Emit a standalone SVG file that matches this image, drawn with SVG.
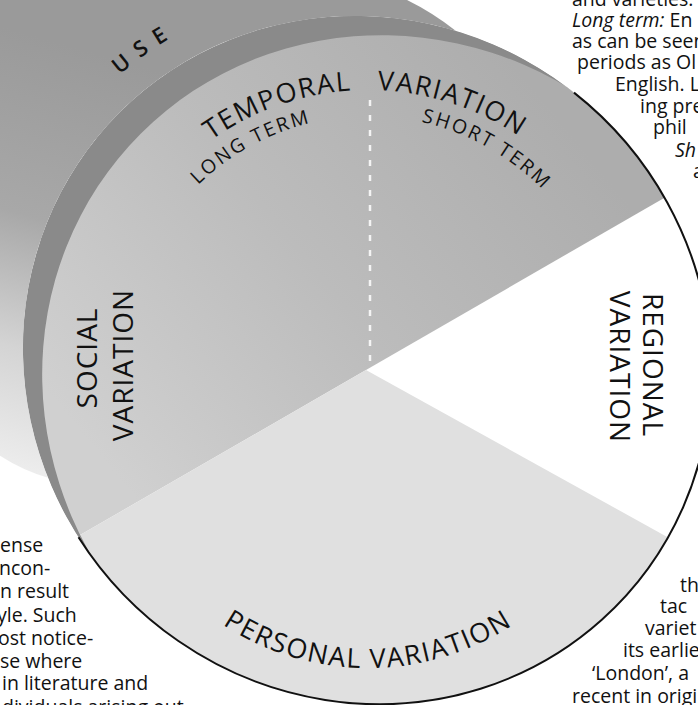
<svg xmlns="http://www.w3.org/2000/svg" width="698" height="705" viewBox="0 0 698 705">
<style>
.lbl{font-family:"Open Sans","Liberation Sans",sans-serif;fill:#111;}
.big{font-size:27px;letter-spacing:1.5px;}
.side{font-size:28px;letter-spacing:1px;}
.small{font-size:19.5px;letter-spacing:2.3px;}
.use{font-size:22px;font-weight:600;letter-spacing:10px;}
.page{font-family:"Open Sans","Liberation Sans",sans-serif;font-size:19.5px;fill:#111;}
.it{font-style:italic;}
</style>
<defs>
<clipPath id="clipE"><ellipse cx="367" cy="360" rx="350" ry="338" transform="rotate(45 367 360)"/></clipPath>
<linearGradient id="gUpper" gradientUnits="userSpaceOnUse" x1="560" y1="120" x2="120" y2="480">
<stop offset="0" stop-color="#adadad"/><stop offset="0.5" stop-color="#bcbcbc"/><stop offset="1" stop-color="#d0d0d0"/>
</linearGradient>
<linearGradient id="gOuter" gradientUnits="userSpaceOnUse" x1="120" y1="60" x2="0" y2="480">
<stop offset="0" stop-color="#9a9a9a"/><stop offset="0.4" stop-color="#a8a8a8"/><stop offset="0.7" stop-color="#d4d4d4"/><stop offset="1" stop-color="#f0f0f0"/>
</linearGradient>
<path id="pTemp" d="M98,360 A270,270 0 0 1 352,90.5"/>
<path id="pVar" d="M377.4,90.2 A270,270 0 0 1 638,360"/>
<path id="pLong" d="M124.1,354.7 A244,244 0 0 1 494.6,151.4"/>
<path id="pShort" d="M243.6,150.1 A244,244 0 0 1 612,357.2"/>
<path id="pUse" d="M-8.1,397.5 A378,378 0 0 1 523.6,15.5"/>
<path id="pPers" d="M138.5,535.5 A265,265 0 0 0 597.5,535.5"/>
</defs>
<rect x="0" y="0" width="698" height="705" fill="#ffffff"/>

<g id="use-outer">
<path d="M405,-1 Q432,12 456,31 A350,338 45 0 0 48,477.7 Q22,470 -1,455 L-1,-1 Z" fill="url(#gOuter)"/>
</g>

<g id="sectors" clip-path="url(#clipE)">
<path id="upper" d="M366,370 L-327,770 L-500,770 L-500,-500 L1059,-500 L1059,-30 Z" fill="url(#gUpper)"/>
<path id="personal" d="M366,370 L1066,758 L1066,1200 L-327,1200 L-327,770 Z" fill="#e0e0e0"/>
<path id="band" fill="#8a8a8a" fill-rule="evenodd" d="M614.5,607.5 A350,338 45 1 1 119.5,112.5 A350,338 45 1 1 614.5,607.5 Z M649.9,642.9 A360,346 45 1 1 140.7,133.7 A360,346 45 1 1 649.9,642.9 Z"/>
</g>

<g id="connectors">
<line x1="370" y1="100" x2="370" y2="366" stroke="#ffffff" stroke-width="2.5" stroke-dasharray="6 9" opacity="0.85"/>
<path d="M574,92.6 A350,338 45 1 1 78.5,537.2" fill="none" stroke="#111" stroke-width="2"/>
</g>

<g id="node-use"><text class="lbl use"><textPath href="#pUse" startOffset="50%" text-anchor="middle">USE</textPath></text></g>
<g id="node-temporal">
<text class="lbl big"><textPath href="#pTemp" startOffset="100%" text-anchor="end">TEMPORAL</textPath></text>
<text class="lbl big"><textPath href="#pVar" startOffset="0">VARIATION</textPath></text>
<text class="lbl small"><textPath href="#pLong" startOffset="50%" text-anchor="middle">LONG TERM</textPath></text>
<text class="lbl small"><textPath href="#pShort" startOffset="50%" text-anchor="middle">SHORT TERM</textPath></text>
</g>
<g id="node-social">
<text class="lbl side" text-anchor="middle" transform="translate(97,358) rotate(-90)">SOCIAL</text>
<text class="lbl side" text-anchor="middle" transform="translate(133,365) rotate(-90)">VARIATION</text>
</g>
<g id="node-regional">
<text class="lbl side" text-anchor="middle" transform="translate(643,365) rotate(90)">REGIONAL</text>
<text class="lbl side" text-anchor="middle" transform="translate(610,367) rotate(90)">VARIATION</text>
</g>
<g id="node-personal">
<text class="lbl big"><textPath href="#pPers" startOffset="50%" text-anchor="middle">PERSONAL VARIATION</textPath></text>
</g>

<g id="page-text-top-right">
<text class="page" x="572" y="6">and varieties.</text>
<text class="page" x="572" y="27"><tspan class="it">Long term:</tspan> En</text>
<text class="page" x="572" y="48">as can be seen</text>
<text class="page" x="577" y="69">periods as Ol</text>
<text class="page" x="615" y="91">English. L</text>
<text class="page" x="640" y="113">ing pre</text>
<text class="page" x="653" y="134">phil</text>
<text class="page it" x="675" y="157">Sh</text>
<text class="page" x="693" y="178">a</text>
</g>
<g id="page-text-left">
<text class="page" x="0" y="552">ense</text>
<text class="page" x="-1" y="575">ncon-</text>
<text class="page" x="0" y="598">n result</text>
<text class="page" x="-3" y="622">yle. Such</text>
<text class="page" x="-2" y="645">ost notice-</text>
<text class="page" x="0" y="668">se where</text>
<text class="page" x="2" y="690">in literature and</text>
<text class="page" x="2" y="714">dividuals arising out</text>
</g>
<g id="page-text-bottom-right">
<text class="page" x="680" y="592">th</text>
<text class="page" x="660" y="613">tac</text>
<text class="page" x="645" y="635">variet</text>
<text class="page" x="623" y="657">its earlie</text>
<text class="page" x="592" y="680">‘London’, a</text>
<text class="page" x="572" y="703">recent in origi</text>
</g>
</svg>
